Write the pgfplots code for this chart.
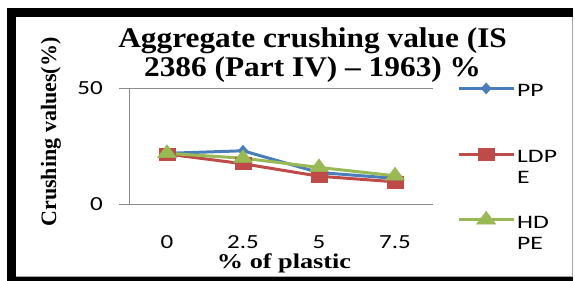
\documentclass[border=0pt]{standalone}
\usepackage{pgfplots}
\pgfplotsset{compat=1.18}
\usepackage{fontspec}
\setmainfont{Carlito}
\newfontfamily\tnr{Liberation Serif}
\newfontfamily\tnrT[FakeStretch=1.1]{Liberation Serif}
\newfontfamily\tnrX[FakeStretch=1.25]{Liberation Serif}
\newfontfamily\tickfont[FakeStretch=1.25]{Carlito}
\newfontfamily\legfont[FakeStretch=1.35]{Carlito}
\definecolor{ppblue}{HTML}{4A7EBB}
\definecolor{ldred}{HTML}{BE4B48}
\definecolor{hdgreen}{HTML}{98B954}
\definecolor{gridgray}{HTML}{8C8C8C}
\begin{document}
\begin{tikzpicture}
\useasboundingbox (0,0) rectangle (575bp,281bp);
\fill[black] (7bp,0) rectangle (573bp,273bp);
\fill[white] (16bp,4bp) rectangle (575bp,264bp);
\draw[gray!70, line width=1bp] (16bp,4.5bp) -- (572bp,4.5bp) -- (572bp,264bp);
\begin{axis}[
  at={(129bp,77bp)}, anchor=south west,
  scale only axis, width=304bp, height=115.7bp,
  xmin=-0.5, xmax=3.5, ymin=0, ymax=50,
  xtick={0,1,2,3}, xticklabels={0,2.5,5,7.5},
  ytick={0,50},
  axis x line*=bottom, axis y line*=left,
  axis line style={-, draw=gridgray, line width=1bp},
  ymajorgrids, grid style={draw=gridgray, line width=1bp},
  xtick style={draw=none},
  ytick style={draw=gridgray, line width=1bp},
  major tick length=10bp, tick align=outside,
  /pgf/number format/assume math mode=true,
  tick label style={font=\tickfont\fontsize{20bp}{23bp}\selectfont, text=black},
  yticklabel style={anchor=east, inner sep=0pt, xshift=-16bp},
  xticklabel style={anchor=north, inner sep=0pt, yshift=-21bp},
  clip=false,
  title={Aggregate crushing value (IS\\2386 (Part IV) – 1963) \%},
  title style={at={(axis description cs:0.604,1.478)}, anchor=north, align=center,
    inner sep=0pt, font=\tnrT\bfseries\fontsize{28.5bp}{29bp}\selectfont},
  xlabel={\% of plastic},
  xlabel style={at={(axis description cs:0.51,-0.51)}, anchor=center,
    font=\tnrX\bfseries\fontsize{21bp}{24bp}\selectfont},
  ylabel={Crushing values(\%)},
  ylabel style={at={(axis description cs:-0.257,0.622)}, anchor=center, rotate=0,
    font=\tnr\bfseries\fontsize{22bp}{24bp}\selectfont},
  legend style={at={(axis description cs:1.079,1.103)}, anchor=north west,
    draw=none, fill=none, inner sep=0pt, row sep=42bp,
    nodes={inner sep=2bp},
    font=\legfont\fontsize{19bp}{26bp}\selectfont, cells={anchor=west}},
  legend image code/.code={\draw[mark repeat=2,mark phase=2,#1] plot coordinates {(0bp,0bp) (27.5bp,0bp) (55bp,0bp)};},
]
\addplot[color=ppblue, line width=3bp, mark=diamond*, mark size=5.5bp,
  mark options={solid, line width=0.5bp, xscale=1.2}]
  coordinates {(0,21.9) (1,23.0) (2,13.6) (3,11.1)};
\addlegendentry{\begin{tabular}[t]{@{}l@{}}PP\end{tabular}}
\addplot[color=ldred, line width=3bp, mark=square*, mark size=6bp,
  mark options={solid, line width=0.5bp, xscale=1.3}]
  coordinates {(0,21.6) (1,17.4) (2,12.0) (3,9.6)};
\addlegendentry{\begin{tabular}[t]{@{}l@{}}LDP\\[-5bp]E\end{tabular}}
\addplot[color=hdgreen, line width=3bp, mark=triangle*, mark size=8.5bp,
  mark options={solid, line width=0.5bp, xscale=1.3},
  error bars/.cd, y dir=both, y explicit, error mark=none,
  error bar style={black, line width=2bp}]
  coordinates {(0,21.9) +- (0,0) (1,19.8) +- (0,2.3) (2,15.8) +- (0,2.0) (3,12.2) +- (0,1.3)};
\addlegendentry{\begin{tabular}[t]{@{}l@{}}HD\\[-5bp]PE\end{tabular}}
\end{axis}
\end{tikzpicture}
\end{document}
